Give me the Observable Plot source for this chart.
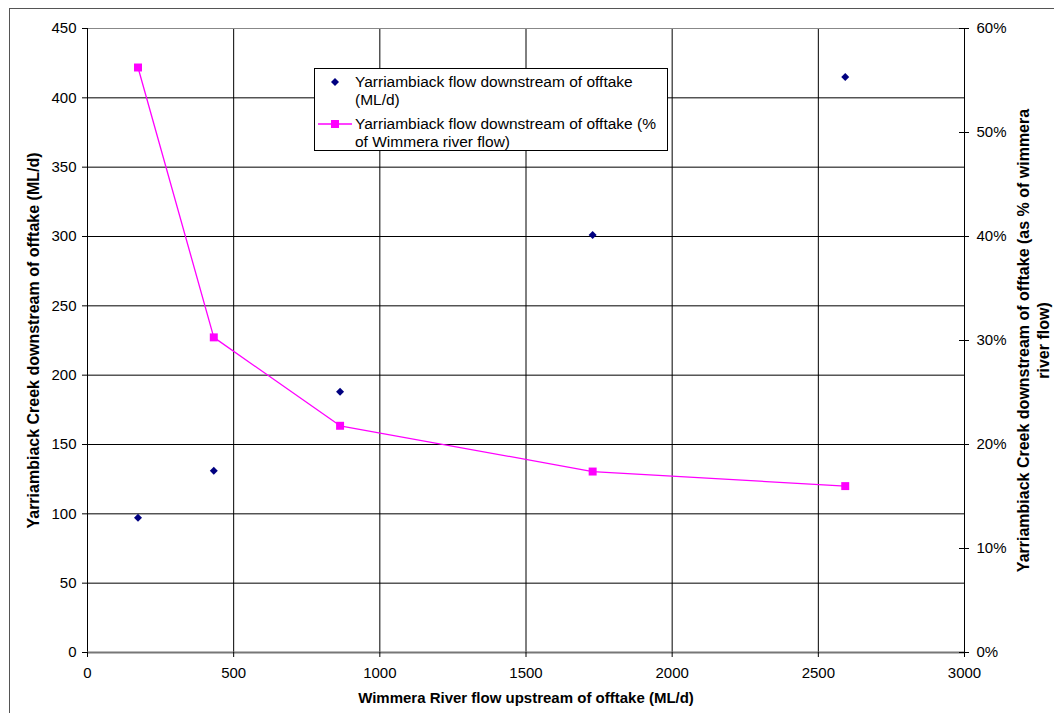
<!DOCTYPE html>
<html>
<head>
<meta charset="utf-8">
<script src="https://cdn.jsdelivr.net/npm/d3@7"></script>
<script src="https://cdn.jsdelivr.net/npm/@observablehq/plot@0.6"></script>
<style>
  html, body { margin: 0; padding: 0; background: #fff; }
  #wrap { position: relative; width: 1054px; height: 713px; overflow: hidden; font-family: "Liberation Sans", Arial, sans-serif; }
  #frame { position: absolute; left: 9px; top: 8px; width: 1100px; height: 800px; border-top: 1.5px solid #555; border-left: 1.5px solid #555; }
  #legend { position: absolute; left: 314px; top: 68px; width: 352px; height: 81px; border: 1px solid #000; background: #fff; font-size: 15.5px; color: #000; }
  .ltxt { position: absolute; left: 40px; line-height: 18px; white-space: nowrap; }
  .lsym { position: absolute; left: 3px; }
</style>
</head>
<body>
<div id="wrap">
  <div id="frame"></div>
  <div id="chart"></div>
  <div id="legend"></div>
</div>
<script>
// ---- data ----
const flowUpstream = [172.8, 432, 864, 1728, 2592];          // Wimmera River flow upstream (ML/d)
const flowDownML   = [97.2, 131, 188, 301, 415];             // Yarriambiack flow downstream (ML/d)
const flowDownPct  = [56.25, 30.3, 21.8, 17.4, 16.0];        // Yarriambiack flow as % of Wimmera flow
const xTicks       = [0, 500, 1000, 1500, 2000, 2500, 3000];
const leftTicks    = [0, 50, 100, 150, 200, 250, 300, 350, 400, 450];
const rightTicks   = [0, 10, 20, 30, 40, 50, 60];
const seriesNames  = ["Yarriambiack flow downstream of offtake\n(ML/d)",
                      "Yarriambiack flow downstream of offtake (%\nof Wimmera river flow)"];
const xTitle  = "Wimmera River flow upstream of offtake (ML/d)";
const yTitle  = "Yarriambiack Creek downstream of offtake (ML/d)";
const y2Title = "Yarriambiack Creek downstream of offtake (as % of wimmera\nriver flow)";

const k = 450 / 60; // right axis (%) mapped onto left axis domain
const rows = flowUpstream.map((x, i) => ({x, ml: flowDownML[i], pct: flowDownPct[i]}));
const pctTicksY = rightTicks.map(p => p * k);

const chart = Plot.plot({
  width: 1054, height: 713,
  marginLeft: 87, marginRight: 90, marginTop: 28, marginBottom: 61,
  x: {domain: [0, 3000]},
  y: {domain: [0, 450]},
  style: {fontFamily: "'Liberation Sans', Arial, sans-serif", fontSize: "15px", color: "#000", background: "transparent"},
  marks: [
    Plot.ruleX(xTicks.slice(1, -1), {stroke: "#000", strokeWidth: 1}),
    Plot.ruleY(leftTicks.slice(1, -1), {stroke: "#000", strokeWidth: 1}),
    Plot.ruleY([450], {stroke: "#888", strokeWidth: 1}),
    Plot.ruleX([0], {stroke: "#000", strokeWidth: 1}),
    Plot.ruleX([3000], {stroke: "#000", strokeWidth: 1}),
    Plot.ruleY([0], {stroke: "#777", strokeWidth: 2}),
    Plot.axisX(xTicks, {tickSize: 5, tickPadding: 10, label: null, tickFormat: d => String(d), fontSize: 15}),
    Plot.axisY(leftTicks, {tickSize: 5, tickPadding: 6, label: null, tickFormat: d => String(d), fontSize: 15}),
    Plot.axisY(pctTicksY, {anchor: "right", tickSize: 4, tickPadding: 8, tickFormat: d => `${Math.round(d / k)}%`, label: null, fontSize: 15}),
    Plot.axisY(pctTicksY, {anchor: "right", tickSize: 6, dx: -6, tickFormat: () => "", label: null}),
    Plot.line(rows, {x: "x", y: d => d.pct * k, stroke: "#ff00ff", strokeWidth: 1.3}),
    Plot.dot(rows, {x: "x", y: d => d.pct * k, symbol: "square", fill: "#ff00ff", stroke: "none", r: 4.5}),
    Plot.dot(rows, {x: "x", y: "ml", symbol: "diamond2", fill: "#000080", stroke: "none", r: 3.6}),
    Plot.text([xTitle], {text: d => d, frameAnchor: "bottom", dy: 46, textAnchor: "middle", lineAnchor: "middle", fontWeight: "bold", fontSize: 15}),
    Plot.text([yTitle], {text: d => d, frameAnchor: "left", dx: -54, rotate: -90, textAnchor: "middle", lineAnchor: "middle", fontWeight: "bold", fontSize: 16}),
    Plot.text([y2Title], {text: d => d, frameAnchor: "right", dx: 68, rotate: -90, textAnchor: "middle", lineAnchor: "middle", fontWeight: "bold", fontSize: 16, lineHeight: 1.25})
  ]
});
chart.style.position = "absolute";
chart.style.left = "0px";
chart.style.top = "0px";
document.getElementById("chart").appendChild(chart);

// legend
const legend = document.getElementById("legend");
const tops = [4, 46];
seriesNames.forEach((name, i) => {
  const t = document.createElement("div");
  t.className = "ltxt";
  t.style.top = tops[i] + "px";
  t.innerHTML = name.split("\n").join("<br>");
  legend.appendChild(t);
  const s = document.createElementNS("http://www.w3.org/2000/svg", "svg");
  s.setAttribute("width", 34); s.setAttribute("height", 14);
  s.setAttribute("class", "lsym");
  s.style.top = (tops[i] + 2) + "px";
  if (i === 0) {
    s.innerHTML = `<path d="M17,3 L21,7 L17,11 L13,7 Z" fill="#000080"/>`;
  } else {
    s.innerHTML = `<line x1="0" y1="7" x2="34" y2="7" stroke="#ff00ff" stroke-width="1.3"/><rect x="13" y="3" width="8" height="8" fill="#ff00ff"/>`;
  }
  legend.appendChild(s);
});
</script>
</body>
</html>
